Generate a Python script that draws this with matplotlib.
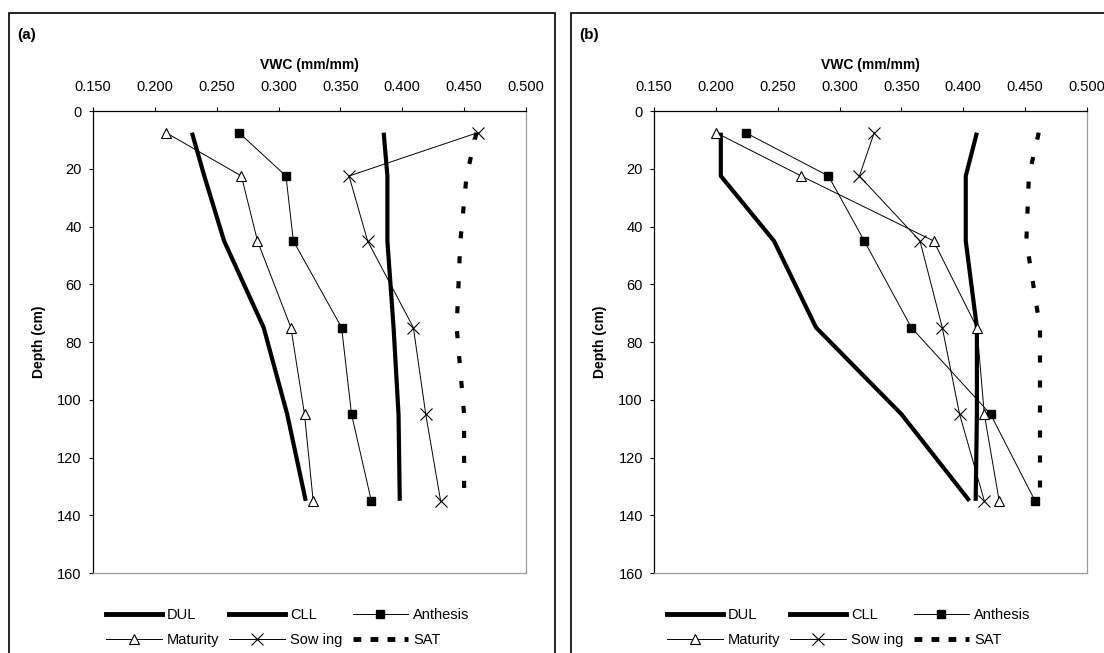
import numpy as np
import matplotlib.pyplot as plt
from matplotlib.lines import Line2D
from matplotlib.patches import Rectangle

plt.rcParams['font.family'] = ['Liberation Sans', 'DejaVu Sans']

# soil layer mid-depths (cm)
depth = [7.5, 22.5, 45, 75, 105, 135]

# panel (a) volumetric water content (mm/mm)
a_dul = [0.230, 0.240, 0.256, 0.288, 0.307, 0.322]
a_cll = [0.385, 0.388, 0.388, 0.393, 0.397, 0.398]
a_anthesis = [0.268, 0.306, 0.312, 0.351, 0.359, 0.375]
a_maturity = [0.209, 0.270, 0.283, 0.310, 0.321, 0.328]
a_sowing = [0.461, 0.357, 0.372, 0.409, 0.419, 0.431]
a_sat = [0.460, 0.452, 0.447, 0.444, 0.450, 0.450]

# panel (b)
b_dul = [0.204, 0.204, 0.247, 0.281, 0.350, 0.405]
b_cll = [0.411, 0.402, 0.402, 0.411, 0.411, 0.410]
b_anthesis = [0.224, 0.291, 0.320, 0.358, 0.422, 0.458]
b_maturity = [0.200, 0.269, 0.376, 0.411, 0.417, 0.429]
b_sowing = [0.328, 0.316, 0.365, 0.383, 0.397, 0.417]
b_sat = [0.461, 0.453, 0.451, 0.462, 0.462, 0.462]

xticks = np.arange(0.15, 0.501, 0.05)
yticks = np.arange(0, 161, 20)

fig = plt.figure(figsize=(11.04, 6.53), dpi=100)

sat_style = (0, (1.7, 4.3))


def draw_panel(ax, dul, cll, anth, mat, sow, sat):
    ax.plot(dul, depth, color='black', lw=3, solid_capstyle='butt')
    ax.plot(cll, depth, color='black', lw=3, solid_capstyle='butt')
    ax.plot(anth, depth, color='black', lw=0.7, marker='s', ms=6,
            mfc='black', mec='black')
    ax.plot(mat, depth, color='black', lw=0.7, marker='^', ms=7,
            mfc='white', mec='black', mew=0.8)
    ax.plot(sow, depth, color='black', lw=0.7, marker='x', ms=9, mew=0.8)
    ax.plot(sat, depth, color='black', lw=3, linestyle=sat_style,
            dash_capstyle='butt')

    ax.set_xlim(0.15, 0.5)
    ax.set_ylim(160, 0)
    ax.set_xticks(xticks)
    ax.set_xticklabels(['%.3f' % v for v in xticks])
    ax.set_yticks(yticks)
    ax.xaxis.tick_top()
    ax.xaxis.set_label_position('top')
    ax.tick_params(axis='x', length=3, width=0.8, pad=9, labelsize=10.5)
    ax.tick_params(axis='y', length=3, width=0.8, pad=5, labelsize=10.5)
    ax.set_xlabel('VWC (mm/mm)', fontweight='bold', fontsize=10, labelpad=8)
    ax.set_ylabel('Depth (cm)', fontweight='bold', fontsize=10, labelpad=8)
    for s in ['top', 'left']:
        ax.spines[s].set_color('black')
        ax.spines[s].set_linewidth(0.9)
    for s in ['right', 'bottom']:
        ax.spines[s].set_color('#9a9a9a')
        ax.spines[s].set_linewidth(0.9)

    handles = [
        Line2D([], [], color='black', lw=3.5),
        Line2D([], [], color='black', lw=0.7, marker='^', ms=7,
               mfc='white', mec='black', mew=0.8),
        Line2D([], [], color='black', lw=3.5),
        Line2D([], [], color='black', lw=0.7, marker='x', ms=8, mew=0.8),
        Line2D([], [], color='black', lw=0.7, marker='s', ms=6),
        Line2D([], [], color='black', lw=3.5, linestyle=(0, (1.6, 1.9))),
    ]
    labels = ['DUL', 'Maturity', 'CLL', 'Sow ing', 'Anthesis', 'SAT']
    ax.legend(handles, labels, loc='upper center',
              bbox_to_anchor=(0.45, -0.048), ncol=3, frameon=False,
              fontsize=10.5, handlelength=3.8, handletextpad=0.35,
              columnspacing=0.7, labelspacing=0.75)


ax_a = fig.add_axes([0.0842, 0.1225, 0.3922, 0.7075])
draw_panel(ax_a, a_dul, a_cll, a_anthesis, a_maturity, a_sowing, a_sat)

ax_b = fig.add_axes([0.5924, 0.1225, 0.3922, 0.7075])
draw_panel(ax_b, b_dul, b_cll, b_anthesis, b_maturity, b_sowing, b_sat)

# chart area borders
W, H = 1104, 653
fig.patches.append(Rectangle((9 / W, -0.05), (555 - 9) / W, 1.05 - 13 / H,
                             transform=fig.transFigure, fill=False,
                             ec='black', lw=1.2))
fig.patches.append(Rectangle((571 / W, -0.05), 0.6, 1.05 - 13 / H,
                             transform=fig.transFigure, fill=False,
                             ec='black', lw=1.2))

fig.text(17 / W, 1 - 35 / H, '(a)', fontweight='bold', fontsize=11,
         va='center', ha='left')
fig.text(579 / W, 1 - 35 / H, '(b)', fontweight='bold', fontsize=11,
         va='center', ha='left')

fig.savefig('out.png', dpi=100)
